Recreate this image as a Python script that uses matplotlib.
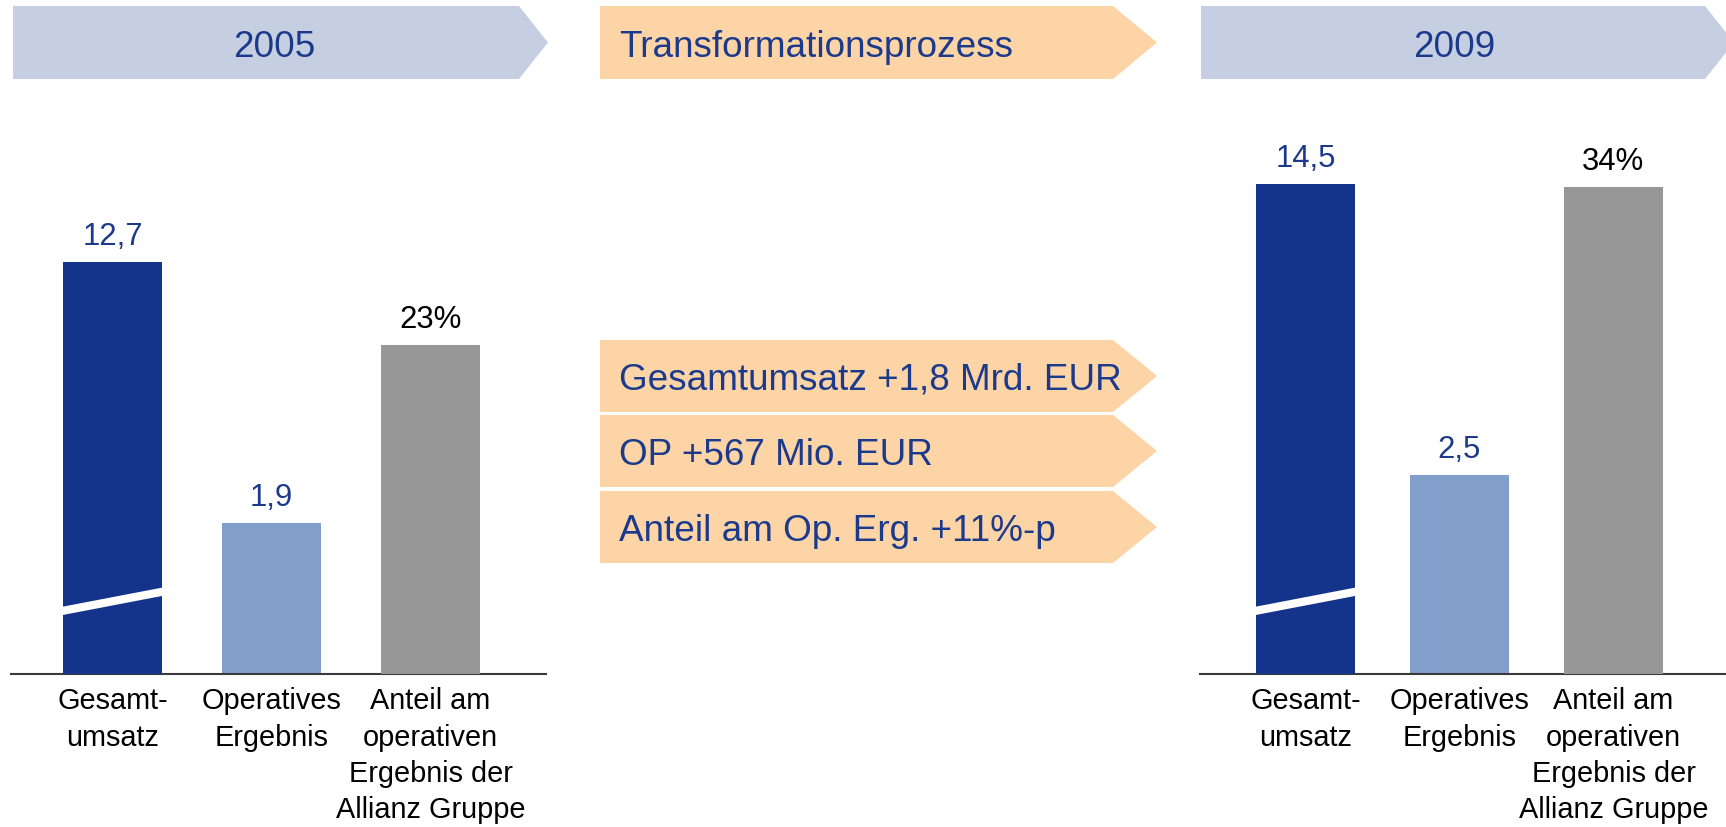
import matplotlib
matplotlib.use("Agg")
import matplotlib.pyplot as plt
from matplotlib.patches import Polygon

plt.rcParams['font.family'] = ['Liberation Sans', 'DejaVu Sans']

# ---------------- data ----------------
years = ["2005", "2009"]
categories = ["Gesamt-\numsatz", "Operatives\nErgebnis",
              "Anteil am\noperativen\nErgebnis der\nAllianz Gruppe"]
gesamtumsatz = [12.7, 14.5]      # Mrd. EUR (broken bar)
operatives_ergebnis = [1.9, 2.5]  # Mrd. EUR
anteil_pct = [23, 34]             # %
middle_title = "Transformationsprozess"
middle_items = ["Gesamtumsatz +1,8 Mrd. EUR",
                "OP +567 Mio. EUR",
                "Anteil am Op. Erg. +11%-p"]

# ---------------- style ----------------
NAVY_TXT = "#1B3A8C"
DARK_BLUE = "#13348A"
LIGHT_BLUE = "#829ECA"
GRAY = "#979797"
BANNER_BLUE = "#C6CFE2"
BANNER_ORANGE = "#FDD4A6"

W, H = 1726, 828
fig = plt.figure(figsize=(W / 100, H / 100), dpi=100)

# background axes in pixel coordinates for banners / boxes
bg = fig.add_axes([0, 0, 1, 1])
bg.set_xlim(0, W)
bg.set_ylim(H, 0)
bg.axis("off")


def arrow(x0, x1, xt, y0, y1, color):
    pts = [(x0, y0), (x1, y0), (xt, (y0 + y1) / 2), (x1, y1), (x0, y1)]
    bg.add_patch(Polygon(pts, closed=True, facecolor=color, edgecolor="none"))


BIG = 26.6
arrow(13, 519, 548, 7, 80, BANNER_BLUE)
arrow(600, 1113, 1157, 7, 80, BANNER_ORANGE)
arrow(1201, 1705, 1734, 7, 80, BANNER_BLUE)
bg.text(274, 57, years[0], ha="center", va="baseline", fontsize=BIG, color=NAVY_TXT)
bg.text(619, 57, middle_title, ha="left", va="baseline", fontsize=BIG, color=NAVY_TXT)
bg.text(1454, 57, years[1], ha="center", va="baseline", fontsize=BIG, color=NAVY_TXT)

box_rows = [(341, 413), (416, 488), (492, 564)]
for (y0, y1), txt in zip(box_rows, middle_items):
    arrow(600, 1113, 1157, y0, y1, BANNER_ORANGE)
    bg.text(619, (y0 + y1) / 2 + 13, txt, ha="left", va="baseline",
            fontsize=BIG, color=NAVY_TXT)

# ---------------- panels ----------------
AX_BOTTOM_PX = 675
AX_TOP_PX = 100
AX_H_PX = AX_BOTTOM_PX - AX_TOP_PX

panels = [
    dict(x0=11, x1=546, xlim=(-0.638, 2.726), width=0.623,
         ylim_g=17.72, ylim_op=7.237, ylim_p=40.18),
    dict(x0=1200, x1=1726, xlim=(-0.685, 2.731), width=0.643,
         ylim_g=17.02, ylim_op=7.237, ylim_p=40.18),
]

VAL_FS = 22.4
CAT_FS = 20.8
OFFSET_PT = 13

def fmt_de(v):
    return f"{v:.1f}".replace(".", ",")

for i, p in enumerate(panels):
    rect = [p["x0"] / W, (H - AX_BOTTOM_PX) / H, (p["x1"] - p["x0"]) / W, AX_H_PX / H]
    ax = fig.add_axes(rect)
    ax.patch.set_alpha(0)
    ax_g = ax.twinx()
    ax_p = ax.twinx()
    for a, yl in ((ax, p["ylim_op"]), (ax_g, p["ylim_g"]), (ax_p, p["ylim_p"])):
        a.set_ylim(0, yl)
        a.set_yticks([])
        for s in a.spines.values():
            s.set_visible(False)
        a.patch.set_alpha(0)
    ax.set_xlim(*p["xlim"])
    ax.spines["bottom"].set_visible(True)
    ax.spines["bottom"].set_color("#3a3a3a")
    ax.spines["bottom"].set_linewidth(1.5)
    ax.spines["bottom"].set_zorder(10)

    w = p["width"]
    ax_g.bar([0], [gesamtumsatz[i]], width=w, color=DARK_BLUE, zorder=2)
    ax.bar([1], [operatives_ergebnis[i]], width=w, color=LIGHT_BLUE, zorder=2)
    ax_p.bar([2], [anteil_pct[i]], width=w, color=GRAY, zorder=2)

    # axis-break band across the Gesamtumsatz bar (in operative-axis units)
    xl, xr = -w / 2, w / 2
    band = Polygon([(xl, 0.743), (xr, 0.982), (xr, 1.087), (xl, 0.848)],
                   closed=True, facecolor="white", edgecolor="none",
                   transform=ax.transData, zorder=5)
    ax_p.add_patch(band)

    ax_g.annotate(fmt_de(gesamtumsatz[i]), (0, gesamtumsatz[i]), xytext=(0, OFFSET_PT),
                  textcoords="offset points", ha="center", va="baseline",
                  fontsize=VAL_FS, color=NAVY_TXT, annotation_clip=False)
    ax.annotate(fmt_de(operatives_ergebnis[i]), (1, operatives_ergebnis[i]), xytext=(0, OFFSET_PT),
                textcoords="offset points", ha="center", va="baseline",
                fontsize=VAL_FS, color=NAVY_TXT, annotation_clip=False)
    ax_p.annotate(f"{anteil_pct[i]}%", (2, anteil_pct[i]), xytext=(0, OFFSET_PT),
                  textcoords="offset points", ha="center", va="baseline",
                  fontsize=VAL_FS, color="black", annotation_clip=False)

    ax.set_xticks(range(len(categories)))
    ax.set_xticklabels(categories, fontsize=CAT_FS, color="black", linespacing=1.37)
    ax.tick_params(axis="x", length=0, pad=9)

fig.savefig("out.png", dpi=100)
